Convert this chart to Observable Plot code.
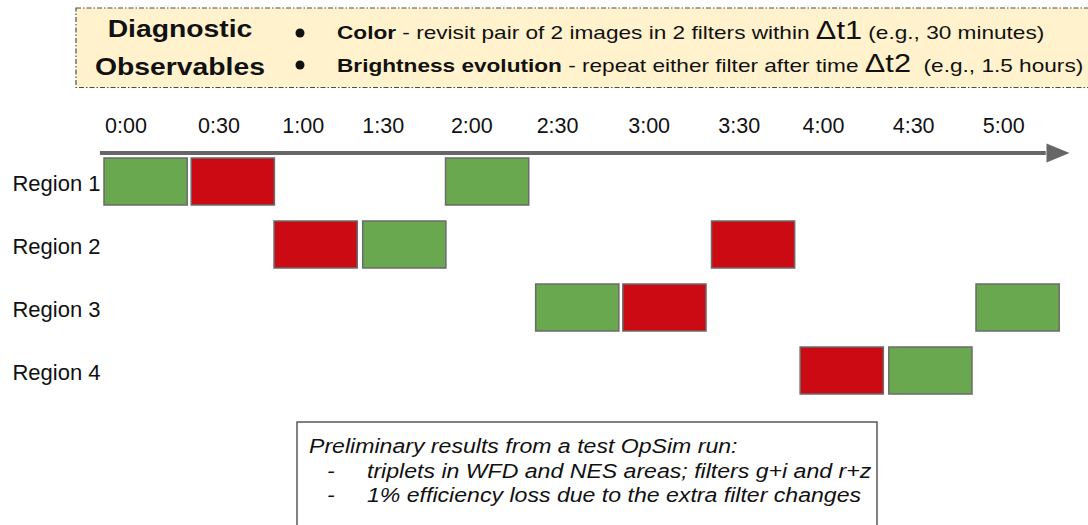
<!DOCTYPE html>
<html>
<head>
<meta charset="utf-8">
<script src="https://cdn.jsdelivr.net/npm/d3@7"></script>
<script src="https://cdn.jsdelivr.net/npm/@observablehq/plot@0.6"></script>
<style>
  html, body { margin: 0; padding: 0; background: #fff; }
  #chart { position: relative; width: 1088px; height: 525px; overflow: hidden;
           font-family: "Liberation Sans", Arial, sans-serif; }
  #chart svg.overlay { position: absolute; left: 0; top: 0; pointer-events: none; }
</style>
</head>
<body>
<div id="chart"></div>
<script>
// ---- data (minutes) ----
const regions = ["Region 1", "Region 2", "Region 3", "Region 4"];
const filters = ["filter 1", "filter 2"];
const visitStart  = [0, 30, 58.5, 89, 117.5, 148.5, 178.5, 209, 239.5, 270, 300];
const visitRegion = ["Region 1", "Region 1", "Region 2", "Region 2", "Region 1", "Region 3",
                     "Region 3", "Region 2", "Region 4", "Region 4", "Region 3"];
const visitFilter = ["filter 1", "filter 2", "filter 2", "filter 1", "filter 1", "filter 1",
                     "filter 2", "filter 2", "filter 2", "filter 1", "filter 1"];
const visitMinutes = 30;
const timeline = [0, 330];
const arrowStart = -1.4;
const arrowShaftEnd = 324;
const arrowTip = 332;
const tickMinutes = [0, 32, 61, 88.5, 119, 148.5, 180, 211, 240, 271, 302];
const tickLabels  = ["0:00", "0:30", "1:00", "1:30", "2:00", "2:30", "3:00", "3:30", "4:00", "4:30", "5:00"];

const headerTitle = ["Diagnostic", "Observables"];
const headerLine1 = [["Color", "b"], [" - revisit pair of 2 images in 2 filters within ", ""], ["\u0394t1", "big"], [" (e.g., 30 minutes)", ""]];
const headerLine2 = [["Brightness evolution", "b"], [" - repeat either filter after time ", ""], ["\u0394t2", "big"], ["  (e.g., 1.5 hours)", ""]];
const noteLines = ["Preliminary results from a test OpSim run:",
                   "triplets in WFD and NES areas; filters g+i and r+z",
                   "1% efficiency loss due to the extra filter changes"];

// ---- tables built from the arrays ----
const visits = visitStart.map((s, i) => ({
  start: s, end: s + visitMinutes, region: visitRegion[i], filter: visitFilter[i]
}));
const arrow = [{from: arrowStart, shaftEnd: arrowShaftEnd, tip: arrowTip, row: regions[0]}];

const arrowHead = {
  draw(ctx) { ctx.moveTo(0, 0); ctx.lineTo(-23, -9.5); ctx.lineTo(-23, 9.5); ctx.closePath(); }
};

const chart = Plot.plot({
  width: 1088,
  height: 525,
  marginLeft: 104,
  marginRight: 24.8,
  marginTop: 140.7,
  marginBottom: 114.8,
  style: {fontFamily: '"Liberation Sans", Arial, sans-serif', color: "#111", background: "transparent", overflow: "visible"},
  x: {domain: timeline, label: null},
  y: {domain: regions, padding: 0.257, label: null},
  color: {domain: filters, range: ["#6aa84f", "#cc0a14"]},
  marks: [
    Plot.axisX({anchor: "top", ticks: tickMinutes, tickFormat: d => tickLabels[tickMinutes.indexOf(d)],
                tickSize: 0, tickPadding: 8, textAnchor: "start", dx: 0.5, fontSize: 21.5, label: null}),
    Plot.axisY({anchor: "left", tickSize: 0, tickPadding: 4, fontSize: 22, dy: 2, label: null}),
    Plot.ruleY(arrow, {x1: "from", x2: "shaftEnd", y: "row", dy: -29, stroke: "#666", strokeWidth: 4}),
    Plot.dot(arrow, {x: "tip", y: "row", dy: -29, symbol: arrowHead, r: 5, fill: "#666"}),
    Plot.barX(visits, {x1: "start", x2: "end", y: "region", fill: "filter",
                       stroke: "#6b6b6b", strokeWidth: 1.5, insetRight: 4})
  ]
});
document.getElementById("chart").appendChild(chart);

// ---- header & note boxes ----
const ov = d3.select("#chart").append("svg").attr("class", "overlay")
  .attr("width", 1088).attr("height", 525)
  .attr("font-family", '"Liberation Sans", Arial, sans-serif');

ov.append("rect").attr("x", 76).attr("y", 8).attr("width", 1030).attr("height", 79.5)
  .attr("fill", "#fff2cc").attr("stroke", "#4d4d4d").attr("stroke-width", 1.2)
  .attr("stroke-dasharray", "5 2 1.5 2");

const tg = ov.append("g").attr("transform", "translate(180,0) scale(1.18,1)")
  .attr("font-weight", "bold").attr("font-size", 24).attr("text-anchor", "middle").attr("fill", "#111");
tg.append("text").attr("y", 37.5).text(headerTitle[0]);
tg.append("text").attr("y", 75.5).text(headerTitle[1]);

ov.append("circle").attr("cx", 300).attr("cy", 33).attr("r", 4.5).attr("fill", "#111");
ov.append("circle").attr("cx", 300).attr("cy", 65).attr("r", 4.5).attr("fill", "#111");

function headerLine(y, parts) {
  const t = ov.append("g").attr("transform", "translate(337,0) scale(1.23,1)")
    .append("text").attr("y", y).attr("font-size", 18.4).attr("fill", "#111").style("white-space", "pre");
  parts.forEach(([txt, kind]) => {
    const s = t.append("tspan").text(txt);
    if (kind === "b") s.attr("font-weight", "bold");
    if (kind === "big") s.attr("font-size", 25);
  });
}
headerLine(39.5, headerLine1);
headerLine(72, headerLine2);

ov.append("rect").attr("x", 297).attr("y", 422).attr("width", 580).attr("height", 140)
  .attr("fill", "#fff").attr("stroke", "#595959").attr("stroke-width", 1.5);

function noteText(x, y, txt) {
  ov.append("g").attr("transform", `translate(${x},0) scale(1.1,1)`)
    .append("text").attr("y", y).attr("font-size", 21).attr("font-style", "italic")
    .attr("fill", "#111").text(txt);
}
noteText(309, 453, noteLines[0]);
noteText(327, 478, "-");
noteText(367, 478, noteLines[1]);
noteText(327, 502, "-");
noteText(367, 502, noteLines[2]);
</script>
</body>
</html>
